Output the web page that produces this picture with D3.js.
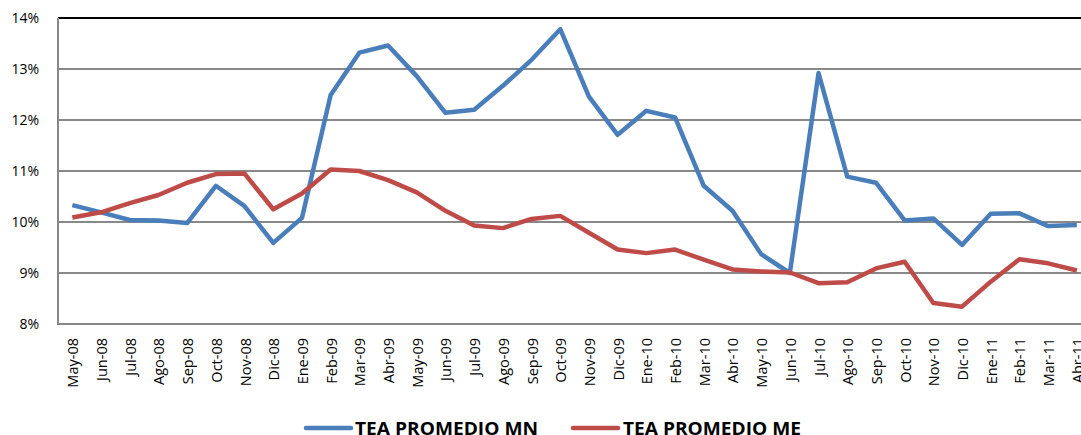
<!DOCTYPE html>
<html>
<head>
<meta charset="utf-8">
<script src="https://cdn.jsdelivr.net/npm/d3@7"></script>
<style>
html,body{margin:0;padding:0;background:#fff;}
svg{display:block;}
</style>
</head>
<body>
<svg id="chart" width="1081" height="435"></svg>
<script>
const categories = ["May-08","Jun-08","Jul-08","Ago-08","Sep-08","Oct-08","Nov-08","Dic-08","Ene-09","Feb-09","Mar-09","Abr-09","May-09","Jun-09","Jul-09","Ago-09","Sep-09","Oct-09","Nov-09","Dic-09","Ene-10","Feb-10","Mar-10","Abr-10","May-10","Jun-10","Jul-10","Ago-10","Sep-10","Oct-10","Nov-10","Dic-10","Ene-11","Feb-11","Mar-11","Abr-11"];
const teaMN = [10.33,10.19,10.04,10.03,9.98,10.71,10.31,9.59,10.08,12.49,13.32,13.46,12.86,12.14,12.20,12.67,13.18,13.78,12.46,11.71,12.18,12.05,10.71,10.22,9.37,9.00,12.92,10.89,10.77,10.03,10.07,9.55,10.16,10.17,9.92,9.94];
const teaME = [10.09,10.19,10.37,10.53,10.77,10.94,10.95,10.25,10.56,11.03,11.00,10.82,10.58,10.22,9.93,9.88,10.06,10.12,9.79,9.46,9.39,9.46,9.26,9.07,9.03,9.01,8.80,8.82,9.09,9.22,8.41,8.34,8.83,9.27,9.19,9.05];
const yTicks = [8,9,10,11,12,13,14];
const seriesNames = ["TEA PROMEDIO MN","TEA PROMEDIO ME"];
const colors = ["#4a7ebb","#be4b48"];

(function(){
const svg = d3.select("#chart");
const pLeft = 58, pTop = 18, pBottom = 324;
const step = 28.7;
const pRight = pLeft + step * categories.length;

const x = d3.scalePoint().domain(categories).range([pLeft + step/2, pRight - step/2]);
const y = d3.scaleLinear().domain([8,14]).range([pBottom, pTop]);

svg.append("g").selectAll("line").data(yTicks.filter(t => t < 14)).join("line")
  .attr("x1", pLeft).attr("x2", pRight)
  .attr("y1", d => y(d)).attr("y2", d => y(d))
  .attr("stroke", "#888").attr("stroke-width", 2);
svg.append("line").attr("x1", pLeft).attr("x2", pRight).attr("y1", y(14)).attr("y2", y(14))
  .attr("stroke", "#000").attr("stroke-width", 2);
svg.append("line").attr("x1", pLeft).attr("x2", pLeft).attr("y1", pTop).attr("y2", pBottom + 1)
  .attr("stroke", "#888").attr("stroke-width", 2);

svg.append("g").selectAll("text").data(yTicks).join("text")
  .attr("x", 39).attr("y", d => y(d) + 5)
  .attr("text-anchor", "end")
  .attr("font-family", "'Open Sans', sans-serif").attr("font-size", 14)
  .attr("fill", "#000")
  .text(d => d + "%");

svg.append("g").selectAll("text").data(categories).join("text")
  .attr("transform", d => `translate(${x(d) + 6},338) rotate(-90)`)
  .attr("text-anchor", "end")
  .attr("font-family", "'Open Sans', sans-serif").attr("font-size", 14.5)
  .attr("fill", "#000")
  .text(d => d);

const line = d3.line().x((d, i) => x(categories[i])).y(d => y(d));
[teaMN, teaME].forEach((s, k) => {
  svg.append("path").datum(s)
    .attr("d", line)
    .attr("fill", "none")
    .attr("stroke", colors[k])
    .attr("stroke-width", 4.5)
    .attr("stroke-linejoin", "round");
});

const legendPos = [{lx: 306, tx: 355, w: 183}, {lx: 573, tx: 623, w: 178}];
seriesNames.forEach((name, k) => {
  const p = legendPos[k];
  svg.append("line").attr("x1", p.lx).attr("x2", p.lx + 45).attr("y1", 428).attr("y2", 428)
    .attr("stroke", colors[k]).attr("stroke-width", 4.5).attr("stroke-linecap", "round");
  svg.append("text").attr("x", p.tx).attr("y", 434.5)
    .attr("font-family", "'Open Sans', sans-serif").attr("font-weight", "bold").attr("font-size", 18)
    .attr("textLength", p.w).attr("lengthAdjust", "spacingAndGlyphs")
    .attr("fill", "#000")
    .text(name);
});
})();
</script>
</body>
</html>
